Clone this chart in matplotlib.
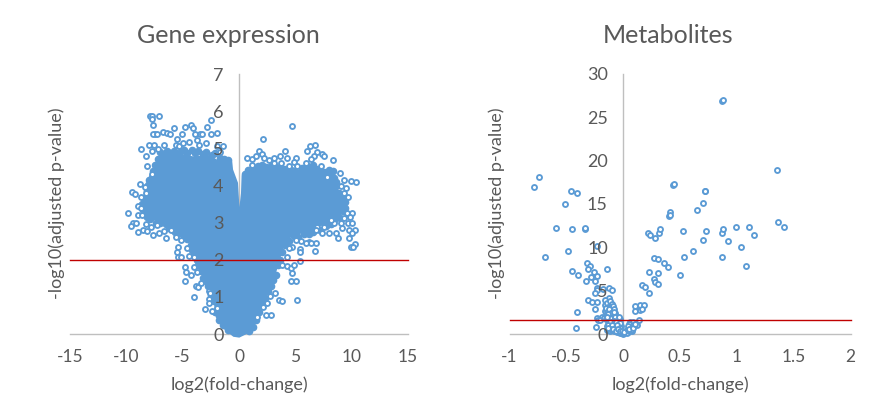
import numpy as np
import matplotlib
matplotlib.use("Agg")
import matplotlib.pyplot as plt

plt.rcParams['font.family'] = ['Lato', 'DejaVu Sans']

# outline of the overplotted mass of gene points (too dense to read one by one)
blob_x = [0, .74, 1.33, 1.69, 2.07, 2.66, 3.11, 3.55, 3.85, 4.44, 5.18, 6.21, 6.95, 7.84, 8.73, 9.32,
          9.32, 8.73, 8.28, 8.14, 7.25, 6.36, 5.47, 4.29, 3.11, 1.92, .89, .38, .33, .18, .06,
          -.06, -.12, -.24, -.68, -.74, -1.92, -2.81, -3.99, -5.47, -6.95, -7.31, -7.84, -8.08, -8.49,
          -8.37, -7.25, -5.92, -4.73, -4.14, -3.55, -3.11, -2.51, -2.07, -1.92, -1.18, -.44]
blob_y = [-.05, .06, .29, .56, .92, 1.27, 1.63, 2.08, 2.35, 2.62, 2.73, 2.78, 2.94, 2.98, 3.16, 3.43,
          3.65, 3.79, 4.15, 4.37, 4.28, 4.51, 4.37, 4.37, 4.42, 4.46, 4.33, 4.24, 3.79, 3.38, 2.78,
          2.78, 3.43, 4.06, 4.42, 4.6, 4.64, 4.78, 4.73, 4.82, 4.82, 4.51, 4.24, 3.79, 3.52,
          3.25, 3.07, 2.85, 2.71, 2.44, 1.99, 1.54, 1.18, .83, .47, .15, -.03]

# single gene points readable around the mass
gene_points = [
    (-7.9, 5.88), (-7.69, 5.88), (-7.1, 5.88), (-7.69, 5.78), (-7.6, 5.63), (-7.46, 5.39), (-7.6, 5.39), (-7.3, 5.39),
    (-6.75, 5.45), (-6.36, 5.42), (-6.12, 5.39), (-5.77, 5.55), (-4.82, 5.56), (-4.29, 5.63), (-4.05, 5.54),
    (-3.91, 5.39), (-3.46, 5.39), (-3.25, 5.39), (-2.81, 5.56), (-2.46, 5.75), (-2.51, 5.39), (-1.92, 5.4),
    (-5.03, 5.39), (-5.47, 5.24), (-8.73, 4.99), (-8.02, 5.08), (-7.54, 5.1), (-7.69, 4.92), (-7.16, 4.99),
    (-6.66, 5.08), (-5.62, 5.09), (-5.33, 5.06), (-4.94, 5.13), (-4.44, 5.16), (-3.7, 5.22), (-3.55, 5.09),
    (-2.96, 5.13), (-1.92, 5.06), (-1.42, 5.07), (-1.69, 4.91), (-8.28, 4.79), (-8.2, 4.51), (-7.69, 4.31),
    (-8.82, 4.04), (-8.34, 3.95), (-9.47, 3.82), (-9.2, 3.78), (-8.73, 3.68), (-8.25, 3.79), (-8.93, 3.45),
    (-8.73, 3.4), (-9.85, 3.25), (-8.93, 3.2), (-8.58, 3.2), (-9.38, 3.0), (-9.11, 3.0), (-9.62, 2.91),
    (-8.28, 2.96), (-8.52, 2.8), (-8.2, 2.77), (-8.96, 2.74), (-7.6, 2.66), (-7.78, 2.89), (-7.1, 2.71),
    (-6.48, 2.58), (-6.66, 2.76), (-7.25, 2.94), (-6.07, 2.8), (-5.62, 2.62), (-5.18, 2.53), (-5.41, 2.33),
    (-5.47, 2.22), (-5.41, 2.08), (-5.18, 2.08), (-4.44, 2.1), (-4.64, 2.31), (-3.99, 2.06), (-4.82, 1.8),
    (-4.73, 1.68), (-3.99, 1.81), (-3.76, 1.68), (-4.29, 1.59), (-4.82, 1.42), (-3.85, 1.29), (-3.61, 1.27),
    (-3.4, 1.36), (-2.66, 1.17), (-2.6, 1.1), (-3.99, .99), (-2.66, .93), (-2.66, .83), (-3.05, .67),
    (-2.37, .63), (-1.92, .69),
    (4.73, 5.61), (2.16, 5.24), (.68, 4.75), (1.18, 4.71), (1.78, 4.94), (2.07, 4.85), (1.48, 4.78), (2.22, 4.73),
    (3.11, 4.73), (3.61, 4.78), (4.08, 4.94), (4.29, 4.75), (5.03, 4.74), (4.88, 4.64), (3.11, 4.6), (3.7, 4.6),
    (1.18, 4.55), (2.66, 4.69), (4.44, 4.51), (5.18, 4.51), (6.07, 4.94), (6.27, 5.07), (6.72, 5.08), (6.95, 4.91),
    (7.4, 4.85), (7.54, 4.78), (6.66, 4.78), (6.36, 4.7), (5.92, 4.6), (8.31, 4.69), (7.25, 4.52), (8.96, 4.34),
    (7.84, 4.24), (9.32, 4.15), (9.91, 4.12), (10.36, 4.09), (9.02, 3.99), (9.47, 3.92), (9.7, 3.68), (9.32, 3.79),
    (9.56, 3.27), (10.06, 3.27), (9.85, 3.16), (9.32, 3.11), (9.67, 2.98), (10.06, 2.98), (9.02, 2.98), (9.17, 2.85),
    (9.76, 2.8), (10.3, 2.8), (10.06, 2.73), (8.82, 2.58), (9.76, 2.58), (8.58, 2.71), (7.99, 2.71), (7.4, 2.71),
    (9.91, 2.35), (10.3, 2.42), (10.15, 2.33), (8.43, 2.98), (8.14, 3.07), (7.54, 2.89), (6.95, 2.89), (6.8, 2.8),
    (6.21, 2.49), (6.86, 2.44), (6.42, 2.44), (5.92, 2.46), (5.47, 2.5), (5.03, 2.53), (6.72, 2.23), (5.41, 2.28),
    (5.41, 2.22), (4.73, 2.35), (4.44, 2.31), (4.29, 2.08), (3.85, 1.86), (4.29, 1.83), (4.59, 1.77), (4.88, 1.86),
    (5.41, 1.96), (4.73, 1.63), (4.64, 1.44), (5.03, 1.42), (5.12, .92), (3.55, .92), (3.85, .88), (3.17, 1.11),
    (2.75, 1.02), (2.51, .83), (2.13, .72), (2.43, .5), (2.81, .5), (1.63, .47),
]

# points packed along the edge of the mass
gene_edge_points = [
    (-7.0, 4.9), (-6.7, 4.85), (-6.4, 4.93), (-6.1, 4.87), (-5.8, 4.92), (-5.2, 4.9), (-4.9, 4.95), (-4.6, 4.88), (-4.2, 4.95),
    (-3.9, 4.87), (-3.6, 4.92), (-3.2, 4.85), (-2.9, 4.9), (-2.4, 4.82), (-2.1, 4.88), (-1.7, 4.75), (-1.3, 4.7), (-1.0, 4.68),
    (-7.2, 4.7), (-7.45, 4.55), (-7.6, 4.38), (-7.95, 4.15), (-8.1, 4.0), (-8.2, 3.85), (-8.4, 3.65), (-8.6, 3.5), (-8.55, 3.35),
    (-8.2, 3.15), (-7.9, 3.1), (-7.4, 3.0), (-7.0, 3.0), (-6.5, 2.95), (-6.2, 2.85), (-5.7, 2.75), (-5.3, 2.72), (-4.9, 2.62),
    (-4.6, 2.55), (-4.3, 2.4), (-4.15, 2.25), (-3.95, 2.2), (-3.75, 2.0), (-3.6, 1.85), (-3.35, 1.7), (-3.2, 1.5), (-2.95, 1.42),
    (-2.75, 1.28), (-2.45, 1.05), (-2.25, .9), (-2.1, .6), (-1.75, .38), (-1.45, .25), (-.95, .1),
    (.55, 4.3), (.8, 4.42), (1.3, 4.48), (1.65, 4.52), (2.0, 4.55), (2.4, 4.5), (2.85, 4.52), (3.3, 4.5), (3.55, 4.48), (4.0, 4.45),
    (4.65, 4.42), (5.0, 4.4), (5.6, 4.48), (6.0, 4.52), (6.55, 4.55), (6.85, 4.45), (7.15, 4.38), (7.55, 4.35), (7.95, 4.42), (8.3, 4.4),
    (8.45, 4.2), (8.6, 4.1), (8.55, 3.95), (8.9, 3.8), (9.15, 3.7), (9.4, 3.55), (9.45, 3.4), (9.2, 3.3), (8.9, 3.15), (8.55, 3.1),
    (8.2, 2.95), (7.75, 2.9), (7.2, 2.8), (6.6, 2.75), (6.2, 2.68), (5.75, 2.7), (5.2, 2.62), (4.85, 2.65), (4.4, 2.5), (4.05, 2.4),
    (3.85, 2.2), (3.65, 2.0), (3.45, 1.85), (3.3, 1.6), (3.05, 1.45), (2.85, 1.3), (2.6, 1.15), (2.35, .98), (2.0, .8), (1.8, .6), (1.5, .38),
    (1.2, .2), (.85, .08),
]

metabolite_points = [
    (.873, 26.9), (.88, 26.95), (1.356, 18.9), (1.362, 12.9), (1.412, 12.4), (.44, 17.2), (.445, 17.25), (.718, 16.5), (.722, 16.55),
    (.703, 15.15), (.65, 14.35), (.416, 14.1), (.407, 13.6), (.41, 13.7), (-.785, 17.0), (-.744, 18.15), (-.457, 16.5),
    (-.41, 16.3), (-.51, 15.0), (-.59, 12.2), (-.45, 12.1), (-.34, 12.15), (-.335, 12.2), (-.685, 8.85), (-.483, 9.6),
    (-.234, 10.1), (-.454, 7.3), (-.398, 6.8), (-.316, 8.2), (-.293, 7.9), (-.313, 7.55), (-.146, 7.55), (-.258, 7.1),
    (-.284, 6.6), (-.231, 6.65), (-.331, 6.15), (-.249, 6.1), (-.226, 5.35), (-.23, 5.1), (-.25, 4.7), (-.176, 5.25),
    (-.123, 5.3), (-.097, 5.05), (-.123, 4.2), (-.158, 3.9), (-.308, 3.9), (-.275, 3.7), (-.234, 3.65), (-.246, 2.9),
    (-.407, 2.5), (-.413, .7), (-.24, .85),
    (.217, 11.7), (.24, 11.45), (.278, 11.1), (.316, 11.7), (.322, 12.1), (.527, 11.9), (.726, 11.9), (.867, 11.7),
    (.879, 12.1), (.993, 12.4), (1.107, 12.35), (1.151, 11.45), (.706, 10.8), (.92, 10.75), (1.04, 10.0), (.615, 9.6),
    (.533, 8.9), (.873, 8.9), (1.084, 7.9), (.267, 8.75), (.308, 8.7), (.363, 8.2), (.398, 7.7), (.228, 7.2), (.31, 7.0),
    (.5, 6.8), (.267, 6.3), (.278, 6.0), (.308, 5.75), (.17, 5.65), (.19, 5.4), (.228, 4.7),
    (.108, 3.2), (.146, 3.4), (.18, 3.35), (.105, 2.6), (.146, 2.75), (.17, 2.85), (.138, 1.65), (.06, 1.4), (.09, 1.4),
    (.123, 1.05), (.07, .85), (.08, .4), (.044, .25),
    (-.16, 3.3), (-.14, 3.6), (-.12, 3.8), (-.1, 3.5), (-.13, 3.1), (-.11, 3.0), (-.09, 3.2), (-.16, 2.7), (-.14, 2.6),
    (-.12, 2.5), (-.1, 2.7), (-.08, 2.9), (-.07, 2.4), (-.15, 2.2), (-.13, 2.1), (-.11, 2.2), (-.09, 2.1), (-.06, 2.1),
    (-.19, 2.0), (-.23, 1.9), (-.22, 1.6), (-.2, 1.6), (-.17, 1.8), (-.15, 1.7), (-.13, 1.6), (-.11, 1.7), (-.09, 1.6),
    (-.07, 1.7), (-.05, 1.6), (-.03, 1.7), (-.13, 1.2), (-.11, 1.1), (-.09, 1.3), (-.07, 1.1), (-.05, 1.2), (-.14, .9),
    (-.12, .7), (-.1, .8), (-.08, .9), (-.06, .7), (-.04, .8), (-.02, .9), (-.14, .5), (-.12, .4), (-.1, .5), (-.08, .4),
    (-.06, .5), (-.04, .4), (-.02, .5), (-.05, .2), (-.03, .15), (-.01, .1), (0, .05), (.01, .1), (.02, .2), (.03, .15),
    (.05, .3), (.07, .5), (.06, .8), (.07, 1.0), (.05, 1.2), (.04, .9), (.03, .5),
    (-.15, 3.0), (-.125, 2.85), (-.105, 2.45), (-.085, 2.55), (-.135, 2.35), (-.095, 1.9), (-.12, 1.9), (-.145, 1.95),
    (-.07, 2.0), (-.04, 1.95), (-.1, 1.4), (-.08, 1.45), (-.12, 1.4), (-.06, 1.4), (-.03, 1.3), (-.13, 1.0), (-.1, 1.0),
    (-.075, .7), (-.05, 1.0), (-.03, .7), (-.115, .6), (-.09, .6), (-.065, .3), (-.045, .55), (-.025, .3), (-.13, .65),
    (-.01, .3), (.01, .25), (.04, .5), (.055, .6), (.09, .75), (.1, 1.2),
]

gene_xticks = [-15, -10, -5, 0, 5, 10, 15]
gene_yticks = [0, 1, 2, 3, 4, 5, 6, 7]
gene_cutoff = 2
met_xticks = [-1, -0.5, 0, 0.5, 1, 1.5, 2]
met_xlabels = ['-1', '-0.5', '0', '0.5', '1', '1.5', '2']
met_yticks = [0, 5, 10, 15, 20, 25, 30]
met_cutoff = 1.6

BLUE = '#5B9BD5'
GREY = '#595959'


def style(ax, xticks, xlabels, yticks, cutoff):
    ax.set_xlim(xticks[0], xticks[-1])
    ax.set_ylim(yticks[0], yticks[-1])
    ax.set_xticks(xticks, xlabels)
    ax.set_yticks(yticks)
    ax.spines['top'].set_visible(False)
    ax.spines['right'].set_visible(False)
    ax.spines['left'].set_position(('data', 0))
    for s in ['left', 'bottom']:
        ax.spines[s].set_color('#BFBFBF')
        ax.spines[s].set_linewidth(1.0)
        ax.spines[s].set_zorder(0.5)
    ax.tick_params(axis='x', length=0, pad=11, labelsize=12.5, labelcolor=GREY)
    ax.tick_params(axis='y', length=0, pad=11, labelsize=13, labelcolor=GREY)
    ax.set_axisbelow(False)
    ax.plot(xticks, [cutoff] * len(xticks), color='#C00000', lw=1.0, zorder=3, clip_on=False)
    ax.set_xlabel('log2(fold-change)', fontsize=13, color=GREY, labelpad=8)


fig = plt.figure(figsize=(8.96, 4.11), dpi=100)
ax1 = fig.add_axes([70 / 896, 77 / 411, 338 / 896, 260 / 411])
ax2 = fig.add_axes([509.5 / 896, 77 / 411, 341 / 896, 260 / 411])

marker = dict(linestyle='none', marker='o', mfc='white', mec=BLUE, ms=3.6, mew=1.35, clip_on=False)

ax1.fill(blob_x, blob_y, color=BLUE, lw=2.5, zorder=1, clip_on=False)
gx, gy = np.array(gene_points).T
ax1.plot(gx, gy, zorder=1.5, **marker)
ex, ey = np.array(gene_edge_points).T
ax1.plot(ex, ey, linestyle='none', marker='o', color=BLUE, ms=4.5, zorder=1.2, clip_on=False)
mx, my = np.array(metabolite_points).T
ax2.plot(mx, my, zorder=1.5, **marker)

style(ax1, gene_xticks, [str(t) for t in gene_xticks], gene_yticks, gene_cutoff)
style(ax2, met_xticks, met_xlabels, met_yticks, met_cutoff)

fig.text(228 / 896, 1 - 35.5 / 411, 'Gene expression', ha='center', va='center', fontsize=18, color=GREY)
fig.text(668 / 896, 1 - 35.5 / 411, 'Metabolites', ha='center', va='center', fontsize=18, color=GREY)
fig.text(57 / 896, 1 - 203 / 411, '-log10(adjusted p-value)', rotation=90, ha='center', va='center', fontsize=13, color=GREY)
fig.text(497 / 896, 1 - 203 / 411, '-log10(adjusted p-value)', rotation=90, ha='center', va='center', fontsize=13, color=GREY)

fig.savefig('out.png', dpi=100)
